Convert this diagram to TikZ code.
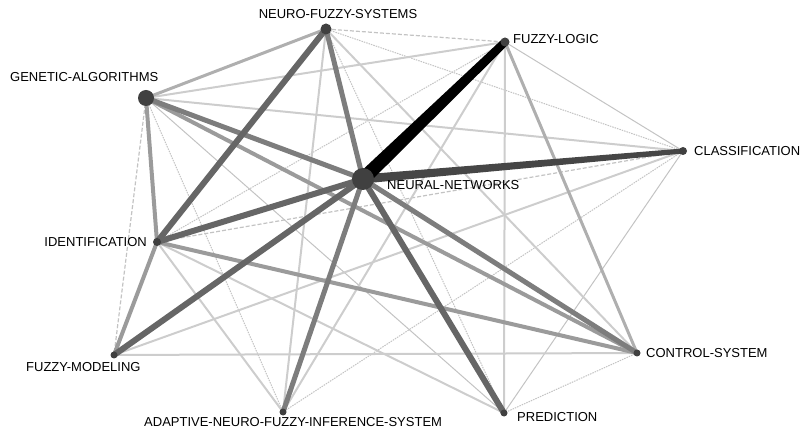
\documentclass[tikz,border=0pt]{standalone}
\usepackage{fontspec}
\setmainfont{Liberation Sans}
\usetikzlibrary{backgrounds,calc}
\definecolor{dotgray}{RGB}{64,64,64}
\definecolor{wdark}{RGB}{70,70,70}
\definecolor{wmid}{RGB}{102,102,102}
\definecolor{wgray}{RGB}{125,125,125}
\definecolor{wlight}{RGB}{155,155,155}
\definecolor{wpale}{RGB}{175,175,175}
\definecolor{wfaint}{RGB}{205,205,205}
\definecolor{wthin}{RGB}{195,195,195}
\begin{document}
\begin{tikzpicture}[x=1pt,y=-1pt,
  dot/.style={circle,fill=dotgray,inner sep=0pt,minimum size=#1},
  lbl/.style={font=\fontsize{13}{15}\selectfont,inner sep=0pt,text=black},
  emid/.style={line width=6pt,wmid},
  egray/.style={line width=5pt,wgray},
  elight/.style={line width=4pt,wlight},
  epale/.style={line width=3pt,wpale},
  efaint/.style={line width=2pt,wfaint},
  ethin/.style={line width=1pt,wthin},
  edot/.style={line width=1pt,wthin,dash pattern=on 1.5pt off 1pt},
  edash/.style={line width=1.2pt,wthin,dash pattern=on 4pt off 2pt}]
\useasboundingbox (0,0) rectangle (803,435);

% nodes of the co-word network
\node[dot=22pt] (nn) at (363,179) {};
\node[dot=16pt] (ga) at (146,98) {};
\node[dot=11pt] (nfs) at (326,29) {};
\node[dot=9pt] (fl) at (505,42) {};
\node[dot=8pt] (cl) at (683,151) {};
\node[dot=8pt] (id) at (157,242) {};
\node[dot=7pt] (fm) at (114,355) {};
\node[dot=7pt] (cs) at (637,353) {};
\node[dot=7pt] (an) at (283,412) {};
\node[dot=7pt] (pr) at (504,413) {};

% labels
\node[lbl,anchor=center] (lnfs) at (338,14) {NEURO-FUZZY-SYSTEMS};
\node[lbl,anchor=west] (lfl) at (513,39) {FUZZY-LOGIC};
\node[lbl,anchor=west] (lga) at (10,77) {GENETIC-ALGORITHMS};
\node[lbl,anchor=west] (lcl) at (694,151) {CLASSIFICATION};
\node[lbl,anchor=west] (lnn) at (387,185) {NEURAL-NETWORKS};
\node[lbl,anchor=east] (lid) at (147,242) {IDENTIFICATION};
\node[lbl,anchor=west] (lfm) at (26,367) {FUZZY-MODELING};
\node[lbl,anchor=west] (lcs) at (646,353) {CONTROL-SYSTEM};
\node[lbl,anchor=west] (lan) at (144,422) {ADAPTIVE-NEURO-FUZZY-INFERENCE-SYSTEM};
\node[lbl,anchor=west] (lpr) at (517,417) {PREDICTION};

% links, weakest first
\begin{scope}[on background layer]
  \foreach \a/\b in {nfs/fl,id/cl,ga/fm}
    \draw[edash] (\a.center) -- (\b.center);
  \foreach \a/\b in {nfs/cl,nfs/pr,ga/an,id/fl,cl/an,cs/pr}
    \draw[edot] (\a.center) -- (\b.center);
  \foreach \a/\b in {ga/pr,cl/pr,fl/cl}
    \draw[ethin] (\a.center) -- (\b.center);
  \foreach \a/\b in {ga/fl,ga/cl,nfs/cs,nfs/an,fl/pr,fl/an,fm/cl,fm/cs,id/pr,id/an}
    \draw[efaint] (\a.center) -- (\b.center);
  \foreach \a/\b in {ga/nfs,fl/cs}
    \draw[epale] (\a.center) -- (\b.center);
  \foreach \a/\b in {ga/cs,id/cs,ga/id,id/fm}
    \draw[elight] (\a.center) -- (\b.center);
  \foreach \a/\b in {nn/nfs,nn/ga,nn/an,nn/cs}
    \draw[egray] (\a.center) -- (\b.center);
  \foreach \a/\b in {nn/id,nn/fm,nfs/id,nn/pr}
    \draw[emid] (\a.center) -- (\b.center);
  % the two strongest links taper towards their far end
  \fill[wdark] ($(nn.center)!4.5pt!90:(cl.center)$) -- ($(cl.center)!2.5pt!-90:(nn.center)$)
    -- ($(cl.center)!2.5pt!90:(nn.center)$) -- ($(nn.center)!4.5pt!-90:(cl.center)$) -- cycle;
  \fill[black] ($(nn.center)!7pt!90:(fl.center)$) -- ($(fl.center)!4pt!-90:(nn.center)$)
    -- ($(fl.center)!4pt!90:(nn.center)$) -- ($(nn.center)!7pt!-90:(fl.center)$) -- cycle;
\end{scope}
\end{tikzpicture}
\end{document}
